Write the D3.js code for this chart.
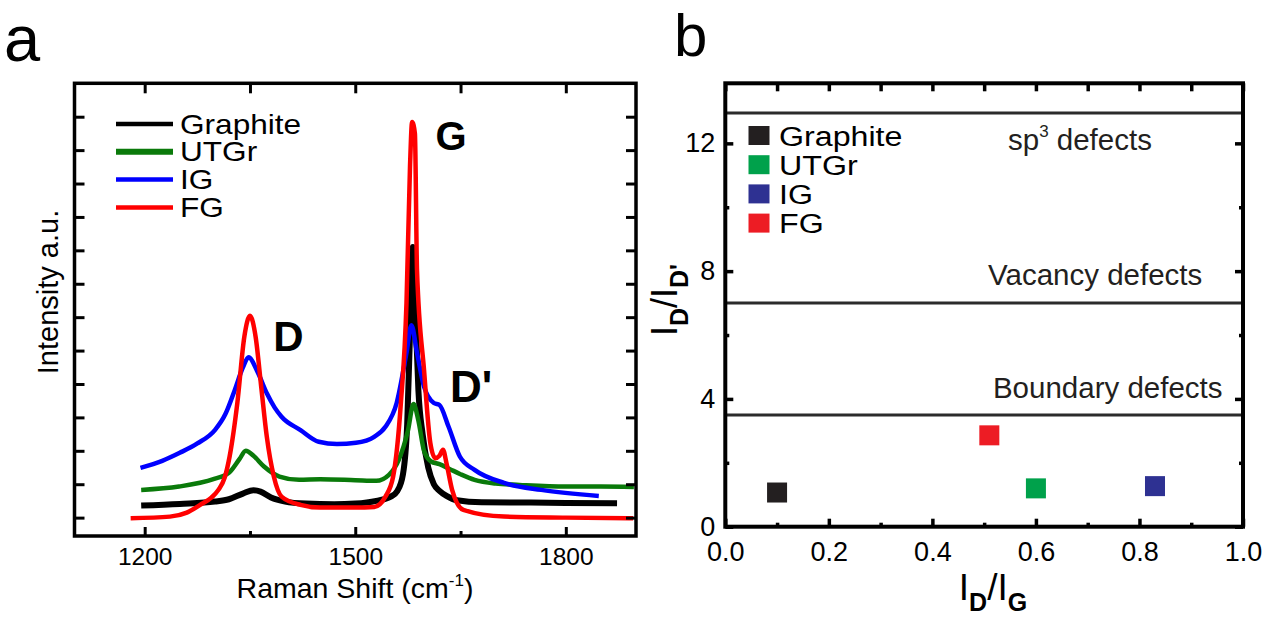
<!DOCTYPE html>
<html><head><meta charset="utf-8">
<script src="https://cdn.jsdelivr.net/npm/d3@7"></script>
<style>body{margin:0;background:#fff}svg{display:block}text{font-family:"Liberation Sans",Arial,sans-serif}</style>
</head><body><svg id="c" width="1274" height="621"></svg>
<script>
// ---------- Data (panel a: Raman spectra, [shift cm-1, intensity a.u.]) ----------
const seriesNames = ["Graphite", "UTGr", "IG", "FG"];
const graphite = [[1195,0.36],[1250,0.41],[1300,0.48],[1320,0.55],[1340,0.72],[1355,0.82],[1365,0.78],[1380,0.6],[1400,0.48],[1430,0.42],[1470,0.4],[1500,0.42],[1530,0.5],[1550,0.62],[1560,0.8],[1568,1.3],[1574,2.8],[1578,5.5],[1582,8.1],[1586,6.0],[1590,3.8],[1596,2.5],[1604,1.5],[1612,1.0],[1620,0.8],[1630,0.65],[1645,0.52],[1680,0.46],[1750,0.45],[1800,0.44],[1873,0.43]];
const utgr = [[1195,0.83],[1249,0.93],[1299,1.16],[1320,1.34],[1335,1.75],[1344,2.0],[1355,1.85],[1370,1.53],[1392,1.23],[1420,1.13],[1450,1.15],[1500,1.12],[1530,1.1],[1548,1.28],[1562,1.73],[1575,2.6],[1583,3.4],[1590,2.9],[1598,2.0],[1608,1.68],[1620,1.6],[1635,1.45],[1650,1.3],[1670,1.13],[1700,1.02],[1734,0.98],[1800,0.93],[1850,0.93],[1897,0.92]];
const ig = [[1194,1.49],[1225,1.7],[1250,1.94],[1275,2.22],[1300,2.62],[1315,3.1],[1328,3.8],[1340,4.5],[1348,4.8],[1360,4.4],[1374,3.72],[1385,3.3],[1395,3.02],[1422,2.62],[1448,2.27],[1474,2.2],[1501,2.24],[1527,2.42],[1543,2.72],[1559,3.43],[1573,4.93],[1580,5.76],[1588,4.93],[1598,3.92],[1612,3.43],[1620,3.37],[1633,2.72],[1649,1.83],[1670,1.43],[1712,1.04],[1765,0.83],[1847,0.65]];
const fg = [[1180,-0.02],[1236,0.03],[1260,0.15],[1279,0.38],[1295,0.6],[1305,0.83],[1314,1.2],[1321,1.83],[1332,3.43],[1342,5.42],[1350,6.04],[1358,5.42],[1366,3.92],[1374,2.42],[1384,1.23],[1395,0.63],[1422,0.38],[1450,0.3],[1500,0.3],[1527,0.32],[1543,0.63],[1554,1.23],[1565,3.43],[1573,6.42],[1578,10.5],[1581,11.84],[1585,11.5],[1588,7.4],[1598,4.42],[1607,2.23],[1614,1.78],[1620,1.85],[1625,2.03],[1630,1.63],[1638,0.83],[1654,0.23],[1712,0.03],[1800,0.0],[1896,-0.02]];
const spectra = [graphite, utgr, ig, fg];
const lineColors = ["#000000", "#0a7a0a", "#0000ff", "#ff0000"];
const ramanTickLabels = [1200, 1500, 1800];
const ramanMinorTicks = [1350, 1650];
const intensityTicks = d3.range(0, 13);
const peakLabels = ["D", "G", "D'"];

// ---------- Data (panel b: I_D/I_G vs I_D/I_D') ----------
const idIg = [0.10, 0.60, 0.83, 0.51];
const idIdprime = [1.07, 1.20, 1.27, 2.86];
const squareColors = ["#231f20", "#00a14b", "#2e3192", "#ed1c24"];
const regionLevels = [12.95, 7.0, 3.5];
const regionLabels = ["sp", "Vacancy defects", "Boundary defects"];
const ratioXTicks = d3.range(0, 1.01, 0.1);
const ratioYTicks = d3.range(0, 13, 2);

// ---------- Drawing ----------
const svg = d3.select("#c");
const fontAxis = "Liberation Sans, Arial, sans-serif";

function stretch(sel, sx) {
  sel.each(function () {
    const t = d3.select(this);
    const x = +t.attr("x"), y = +t.attr("y");
    t.attr("x", 0).attr("y", 0).attr("transform", `translate(${x},${y}) scale(${sx},1)`);
  });
}
function styleAxis(g, sw) {
  g.select(".domain").remove();
  g.selectAll(".tick line").attr("stroke", "#000").attr("stroke-width", sw);
  g.selectAll(".tick text").attr("fill", "#000").attr("font-family", fontAxis);
}

// ===== Panel a =====
const xL = d3.scaleLinear().domain([1100, 1900]).range([74.5, 636]);
const yL = d3.scaleLinear().domain([-0.55, 13]).range([536, 83.3]);
const pa = svg.append("g");

pa.append("clipPath").attr("id", "clipA").append("rect")
  .attr("x", xL.range()[0]).attr("y", yL.range()[1])
  .attr("width", xL.range()[1] - xL.range()[0]).attr("height", yL.range()[0] - yL.range()[1]);

const line = d3.line().x(d => xL(d[0])).y(d => yL(d[1])).curve(d3.curveMonotoneX);
const lineWidths = [6, 4.5, 4.5, 4.5];
pa.append("g").attr("clip-path", "url(#clipA)").selectAll("path").data(spectra).join("path")
  .attr("d", line).attr("fill", "none")
  .attr("stroke", (d, i) => lineColors[i]).attr("stroke-width", (d, i) => lineWidths[i])
  .attr("stroke-linejoin", "round").attr("stroke-linecap", "butt");

// axes
let g;
g = pa.append("g").attr("transform", `translate(0,${yL.range()[0]})`)
  .call(d3.axisBottom(xL).tickValues(ramanTickLabels).tickSize(-9).tickPadding(12).tickFormat(d3.format("d")));
styleAxis(g, 3); g.selectAll(".tick text").attr("font-size", 24.5);
g = pa.append("g").attr("transform", `translate(0,${yL.range()[0]})`)
  .call(d3.axisBottom(xL).tickValues(ramanMinorTicks).tickSize(-5).tickFormat(""));
styleAxis(g, 3);
g = pa.append("g").attr("transform", `translate(0,${yL.range()[1]})`)
  .call(d3.axisTop(xL).tickValues(ramanTickLabels.concat(ramanMinorTicks)).tickSize(-10).tickFormat(""));
styleAxis(g, 3);
g = pa.append("g").attr("transform", `translate(${xL.range()[0]},0)`)
  .call(d3.axisLeft(yL).tickValues(intensityTicks).tickSize(-10).tickFormat(""));
styleAxis(g, 3);
g = pa.append("g").attr("transform", `translate(${xL.range()[1]},0)`)
  .call(d3.axisRight(yL).tickValues(intensityTicks).tickSize(-10).tickFormat(""));
styleAxis(g, 3);

pa.append("rect").attr("x", xL.range()[0]).attr("y", yL.range()[1])
  .attr("width", xL.range()[1] - xL.range()[0]).attr("height", yL.range()[0] - yL.range()[1])
  .attr("fill", "none").attr("stroke", "#000").attr("stroke-width", 3.5);

// peak labels
const peakPos = [[1342, 5.0, 42], [1580, 11.0, 40], [1625, 3.45, 44]];
pa.selectAll("text.peak").data(peakLabels).join("text").attr("class", "peak")
  .attr("x", (d, i) => xL(peakPos[i][0]) + [29, 24, 7][i])
  .attr("y", (d, i) => yL(peakPos[i][1]))
  .attr("font-size", (d, i) => peakPos[i][2]).attr("font-weight", "bold").text(d => d);

// legend
const legA = pa.append("g");
const legRowH = 27.8;
legA.selectAll("line").data(seriesNames).join("line")
  .attr("x1", 116).attr("x2", 173)
  .attr("y1", (d, i) => 124 + i * legRowH).attr("y2", (d, i) => 124 + i * legRowH)
  .attr("stroke", (d, i) => lineColors[i]).attr("stroke-width", (d, i) => [4.5, 6, 4.5, 4.5][i]);
legA.selectAll("text").data(seriesNames).join("text")
  .attr("x", 180).attr("y", (d, i) => 124 + i * legRowH + 9.5)
  .attr("font-size", 27).text(d => d).call(stretch, 1.17);

// axis titles
pa.append("text").attr("transform", "translate(58,292) rotate(-90)").attr("text-anchor", "middle")
  .attr("font-size", 29).text("Intensity a.u.");
const rt = pa.append("text").attr("x", 355).attr("y", 598).attr("text-anchor", "middle").attr("font-size", 28.5);
rt.append("tspan").text("Raman Shift (cm");
rt.append("tspan").attr("font-size", 17).attr("dy", -12).text("-1");
rt.append("tspan").attr("dy", 12).text(")");

// panel letter
svg.append("text").attr("x", 4).attr("y", 61).attr("font-family", "DejaVu Sans, sans-serif")
  .attr("font-size", 65).text("a");

// ===== Panel b =====
const xR = d3.scaleLinear().domain([0, 1]).range([725.3, 1243]);
const yR = d3.scaleLinear().domain([0, 13.88]).range([526.7, 83.3]);
const pb = svg.append("g");

// region lines
pb.selectAll("line.region").data(regionLevels).join("line").attr("class", "region")
  .attr("x1", xR(0)).attr("x2", xR(1)).attr("y1", d => yR(d)).attr("y2", d => yR(d))
  .attr("stroke", "#2b2b2b").attr("stroke-width", 3);

// region labels
const regionLabelPos = [[0.546, 11.79], [0.5075, 7.565], [0.517, 4.02]];
pb.selectAll("text.region").data(regionLabels).join("text").attr("class", "region")
  .attr("x", (d, i) => xR(regionLabelPos[i][0])).attr("y", (d, i) => yR(regionLabelPos[i][1]))
  .attr("font-size", 29.5).attr("fill", "#231f20")
  .each(function (d, i) {
    const t = d3.select(this);
    if (i === 0) {
      t.append("tspan").text("sp");
      t.append("tspan").attr("font-size", 17).attr("dy", -13).text("3");
      t.append("tspan").attr("dy", 13).text(" defects");
    } else t.text(d);
  });

// axes
const xMajor = ratioXTicks.filter((d, i) => i % 2 === 0);
const xMinor = ratioXTicks.filter((d, i) => i % 2 === 1);
const yMajor = ratioYTicks.filter((d, i) => i % 2 === 0);
const yMinor = ratioYTicks.filter((d, i) => i % 2 === 1);
g = pb.append("g").attr("transform", `translate(0,${yR(0)})`)
  .call(d3.axisBottom(xR).tickValues(xMajor).tickSize(-8).tickPadding(15).tickFormat(d3.format(".1f")));
styleAxis(g, 3.5); g.selectAll(".tick text").attr("font-size", 27);
g = pb.append("g").attr("transform", `translate(0,${yR(0)})`)
  .call(d3.axisBottom(xR).tickValues(xMinor).tickSize(-4).tickFormat(""));
styleAxis(g, 3.5);
g = pb.append("g").attr("transform", `translate(0,${yR.range()[1]})`)
  .call(d3.axisTop(xR).tickValues(ratioXTicks).tickSize(-8).tickFormat(""));
styleAxis(g, 3.5);
g = pb.append("g").attr("transform", `translate(${xR(0)},0)`)
  .call(d3.axisLeft(yR).tickValues(yMajor).tickSize(-8).tickPadding(10).tickFormat(d3.format("d")));
styleAxis(g, 3.5); g.selectAll(".tick text").attr("font-size", 27);
g = pb.append("g").attr("transform", `translate(${xR(0)},0)`)
  .call(d3.axisLeft(yR).tickValues(yMinor).tickSize(-4).tickFormat(""));
styleAxis(g, 3.5);
g = pb.append("g").attr("transform", `translate(${xR(1)},0)`)
  .call(d3.axisRight(yR).tickValues(yMajor).tickSize(-8).tickFormat(""));
styleAxis(g, 3.5);
g = pb.append("g").attr("transform", `translate(${xR(1)},0)`)
  .call(d3.axisRight(yR).tickValues(yMinor).tickSize(-4).tickFormat(""));
styleAxis(g, 3.5);

pb.append("rect").attr("x", xR(0)).attr("y", yR.range()[1])
  .attr("width", xR(1) - xR(0)).attr("height", yR(0) - yR.range()[1])
  .attr("fill", "none").attr("stroke", "#000").attr("stroke-width", 4);

// points
const sq = 20;
pb.selectAll("rect.pt").data(idIg).join("rect").attr("class", "pt")
  .attr("x", d => xR(d) - sq / 2).attr("y", (d, i) => yR(idIdprime[i]) - sq / 2)
  .attr("width", sq).attr("height", sq).attr("fill", (d, i) => squareColors[i]);

// legend
const legB = pb.append("g");
const legBRow = 29.2;
legB.selectAll("rect").data(seriesNames).join("rect")
  .attr("x", 748.5).attr("y", (d, i) => 135.5 + i * legBRow - 9.5)
  .attr("width", 21).attr("height", 19).attr("fill", (d, i) => squareColors[i]);
legB.selectAll("text").data(seriesNames).join("text")
  .attr("x", 779).attr("y", (d, i) => 135.5 + i * legBRow + 10)
  .attr("font-size", 28).text(d => d).call(stretch, 1.15);

// axis titles
const xt = pb.append("text").attr("x", 993).attr("y", 600).attr("text-anchor", "middle").attr("font-size", 37);
xt.append("tspan").text("I");
xt.append("tspan").attr("font-size", 25).attr("font-weight", "bold").attr("dy", 11).text("D");
xt.append("tspan").attr("dy", -11).text("/I");
xt.append("tspan").attr("font-size", 25).attr("font-weight", "bold").attr("dy", 11).text("G");

const yt = pb.append("text").attr("transform", "translate(677,300) rotate(-90)").attr("text-anchor", "middle").attr("font-size", 36);
yt.append("tspan").text("I");
yt.append("tspan").attr("font-size", 25).attr("font-weight", "bold").attr("dy", 11).text("D");
yt.append("tspan").attr("dy", -11).text("/I");
yt.append("tspan").attr("font-size", 25).attr("font-weight", "bold").attr("dy", 11).text("D'");

svg.append("text").attr("x", 674).attr("y", 56).attr("font-family", "DejaVu Sans, sans-serif")
  .attr("font-size", 60).text("b");
</script></body></html>
